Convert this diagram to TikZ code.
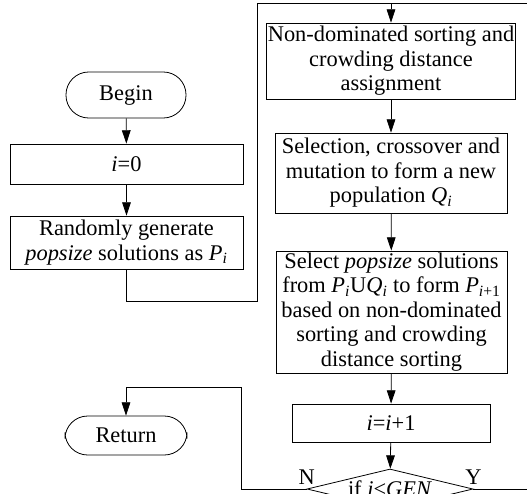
\documentclass[tikz,border=0pt]{standalone}
\usepackage{fontspec}
\setmainfont{Liberation Serif}
\usetikzlibrary{arrows.meta,shapes.geometric}

\tikzset{
  box/.style={draw, line width=0.6pt, align=center, inner sep=1pt},
  term/.style={draw, line width=0.6pt, rounded corners=17pt, minimum width=90pt, inner sep=1pt},
  cond/.style={draw, line width=0.6pt, diamond, shape aspect=4.15, inner sep=0pt,
               minimum width=124.5pt, minimum height=30pt},
  line/.style={line width=0.6pt},
  >={Triangle[length=10pt,width=6.5pt]}
}

\begin{document}
\begin{tikzpicture}[x=0.75pt, y=-0.75pt, font=\fontsize{16.8}{18.4}\selectfont]
        \clip (0,0) rectangle (527,493);
        % left column
        \node[term, minimum height=34.5pt] (begin) at (126,95) {Begin};
        \node[box, minimum width=174.75pt, minimum height=30pt] (init) at (126.5,164) {\textit{i}=0};
        \node[box, minimum width=174.75pt, minimum height=39.75pt] (gen) at (126.5,242.5)
            {Randomly generate\\ \textit{popsize} solutions as \textit{P}\textsubscript{\textit{i}}};
        \node[term, minimum width=91.5pt, minimum height=29.25pt] (ret) at (126,435.5) {Return};
        % right column
        \node[box, minimum width=174pt, minimum height=57pt] (sort) at (391,61)
            {Non-dominated sorting and\\ crowding distance\\ assignment};
        \node[box, minimum width=174pt, minimum height=60pt] (evol) at (391,173)
            {Selection, crossover and\\ mutation to form a new\\ population \textit{Q}\textsubscript{\textit{i}}};
        \node[box, minimum width=173.25pt, minimum height=91.5pt] (select) at (391.5,312)
            {Select \textit{popsize} solutions\\
             from \textit{P}\textsubscript{\textit{i}}U\textit{Q}\textsubscript{\textit{i}} to form \textit{P}\textsubscript{\textit{i}+1}\\
             based on non-dominated\\ sorting and crowding\\ distance sorting};
        \node[box, minimum width=148.5pt, minimum height=28.5pt] (incr) at (391,423) {\textit{i}=\textit{i}+1};
        \node[cond] (check) at (390,489) {if \textit{i}<\textit{GEN}};

        % corners of the loops
        \coordinate (top) at (391,3);
        \coordinate (farright) at (545,3);
        \coordinate (lowleft) at (126,301);
        \coordinate (back) at (257,301);
        \coordinate (nturn) at (241,387);

        \draw[line, ->] (begin) -- (init);
        \draw[line, ->] (init) -- (gen);
        \draw[line, ->] (gen.south) |- (back) |- (top) -- (sort.north);
        \draw[line, ->] (sort) -- (evol);
        \draw[line, ->] (evol) -- (select);
        \draw[line, ->] (select) -- (incr);
        \draw[line, ->] (incr) -- (check);
        \draw[line, ->] (check.west) node[above, inner sep=3pt] {N} -| (nturn) -| (ret.north);
        \draw[line] (check.east) node[above, inner sep=3pt] {Y} -| (farright) -- (top);
\end{tikzpicture}
\end{document}
